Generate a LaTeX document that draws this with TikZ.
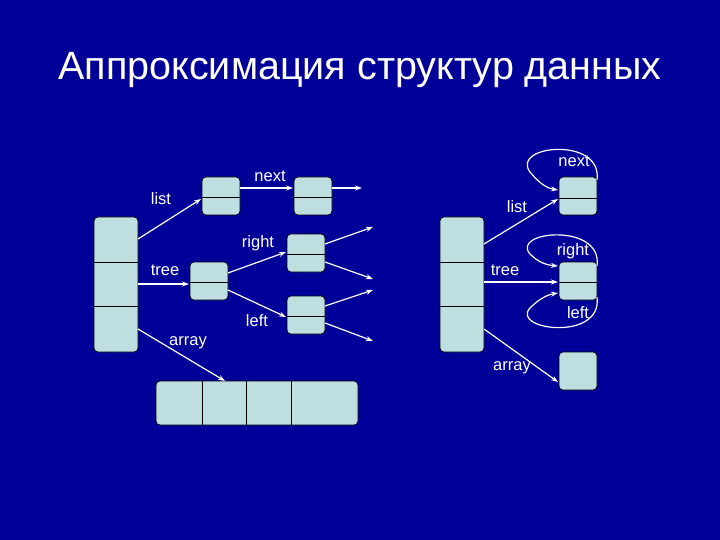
\documentclass[tikz,border=0pt]{standalone}
\usepackage{fontspec}
\setmainfont{Liberation Sans}
\usetikzlibrary{arrows.meta}
\begin{document}
\begin{tikzpicture}[x=1pt,y=-1pt,
  box/.style={draw=black,fill=cellc,rounded corners=4pt,line width=0.7pt},
  ln/.style={draw=black,line width=0.7pt},
  arr/.style={white,line width=1.2pt,-{Stealth[length=7pt,width=5pt]}},
  lab/.style={white,font=\fontsize{16.5}{18}\selectfont,inner sep=0pt}]
\definecolor{bgc}{HTML}{000099}
\definecolor{cellc}{HTML}{BEDEDF}
\fill[bgc] (0,0) rectangle (720,540);
\useasboundingbox (0,0) rectangle (720,540);
\node[white,font=\fontsize{39.5}{44}\selectfont] (title) at (360,70) {Аппроксимация структур данных};
% left side
\draw[box] (94,217) rectangle (138,352);
\draw[ln] (94,262) -- (138,262) (94,306) -- (138,306);
\coordinate (L1) at (138,239); \coordinate (L2) at (138,284); \coordinate (L3) at (138,329);
\draw[box] (202,177) rectangle (240,215); \draw[ln] (202,197)--(240,197);
\draw[box] (294,177) rectangle (332,215); \draw[ln] (294,197)--(332,197);
\draw[box] (190,262) rectangle (228,300); \draw[ln] (190,282)--(228,282);
\draw[box] (287,234) rectangle (325,272); \draw[ln] (287,254)--(325,254);
\draw[box] (287,296) rectangle (325,334); \draw[ln] (287,316)--(325,316);
\draw[box] (156,381) rectangle (358,425);
\draw[ln] (202,381)--(202,425) (246,381)--(246,425) (291,381)--(291,425);
\coordinate (A) at (201,199); \coordinate (Aout) at (240,188); \coordinate (Bin) at (293,188);
\coordinate (Bout) at (332,188); \coordinate (Bend) at (362,188);
\coordinate (Cin) at (189,284); \coordinate (Co1) at (228,273); \coordinate (Co2) at (228,290);
\coordinate (Din) at (286,252); \coordinate (Ein) at (286,317);
\coordinate (Do1) at (325,244); \coordinate (De1) at (373,227);
\coordinate (Do2) at (325,262); \coordinate (De2) at (373,279);
\coordinate (Eo1) at (325,306); \coordinate (Ee1) at (373,290);
\coordinate (Eo2) at (325,323); \coordinate (Ee2) at (373,341);
\coordinate (Arr) at (225,381);
\draw[arr] (L1)--(A); \draw[arr] (Aout)--(Bin); \draw[arr] (Bout)--(Bend);
\draw[arr] (L2)--(Cin); \draw[arr] (Co1)--(Din); \draw[arr] (Co2)--(Ein);
\draw[arr] (Do1)--(De1); \draw[arr] (Do2)--(De2); \draw[arr] (Eo1)--(Ee1); \draw[arr] (Eo2)--(Ee2);
\draw[arr] (L3)--(Arr);
\node[lab] (l1) at (161,199) {list};
\node[lab] (l2) at (270,176) {next};
\node[lab] (l3) at (258,243) {right};
\node[lab] (l4) at (165,270) {tree};
\node[lab] (l5) at (257,321) {left};
\node[lab] (l6) at (188,343) {array};
% right side
\draw[box] (440,217) rectangle (484,352);
\draw[ln] (440,262) -- (484,262) (440,306) -- (484,306);
\draw[box] (559,177) rectangle (597,215); \draw[ln] (559,198)--(597,198);
\draw[box] (559,262) rectangle (597,300); \draw[ln] (559,282)--(597,282);
\draw[box] (559,352) rectangle (597,390);
\coordinate (R1) at (484,244); \coordinate (R2) at (484,282); \coordinate (R3) at (484,329);
\coordinate (Fin) at (558,199); \coordinate (Gin) at (558,282); \coordinate (Hin) at (558,382);
\draw[arr] (R1)--(Fin); \draw[arr] (R2)--(Gin); \draw[arr] (R3)--(Hin);
\coordinate (F1) at (597,180); \coordinate (F2) at (558,190);
\draw[arr] (F1) .. controls (603,136) and (510,145) .. (530,172) .. controls (538,182) and (546,188) .. (F2);
\coordinate (G1) at (597,266); \coordinate (G2) at (558,266);
\draw[arr] (G1) .. controls (603,222) and (510,231) .. (530,254) .. controls (538,262) and (546,265) .. (G2);
\coordinate (G3) at (597,297); \coordinate (G4) at (558,293);
\draw[arr] (G3) .. controls (603,342) and (510,330) .. (530,308) .. controls (538,300) and (546,295) .. (G4);
\node[lab] (r1) at (574,161) {next};
\node[lab] (r2) at (517,207) {list};
\node[lab] (r3) at (573,251) {right};
\node[lab] (r4) at (505,270) {tree};
\node[lab] (r5) at (578,313) {left};
\node[lab] (r6) at (512,368) {array};
\end{tikzpicture}
\end{document}
